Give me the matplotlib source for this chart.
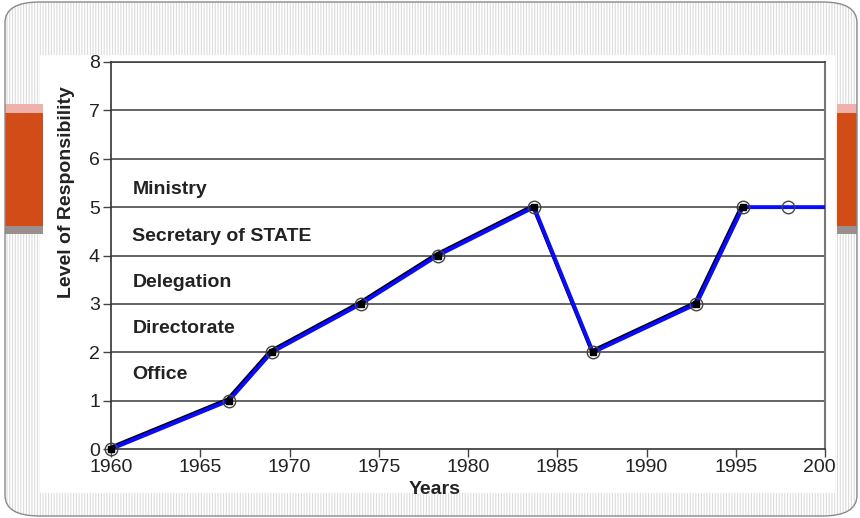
import matplotlib.pyplot as plt
import matplotlib.transforms as mtransforms
from matplotlib.patches import Rectangle, FancyBboxPatch

# data
years = [1960, 1966.6, 1969, 1974, 1978.3, 1983.7, 1987, 1992.8, 1995.4]
levels = [0, 1, 2, 3, 4, 5, 2, 3, 5]
extra_year, extra_level = 1997.9, 5   # circled point on the flat part
line_end = 2000

level_names = ["Office", "Directorate", "Delegation", "Secretary of STATE", "Ministry"]
name_pos = [1.55, 2.5, 3.45, 4.4, 5.37]

xticks = list(range(1960, 2001, 5))
yticks = list(range(0, 9))

plt.rcParams['font.family'] = ['Liberation Sans', 'DejaVu Sans']
plt.rcParams['hatch.linewidth'] = 0.8

W, H = 860, 518
fig = plt.figure(figsize=(8.6, 5.18), dpi=100)

def fx(px):
    return px / W

def fy(py):
    return 1 - py / H

# slide frame with the striped background
frame = FancyBboxPatch((fx(5), fy(516)), fx(852), 514 / H,
                       boxstyle="round,pad=0,rounding_size=0.04",
                       transform=fig.transFigure, facecolor='white',
                       edgecolor='#dcdcdc', hatch='||||||', lw=0, zorder=-10)
fig.add_artist(frame)
border = FancyBboxPatch((fx(5), fy(516)), fx(852), 514 / H,
                        boxstyle="round,pad=0,rounding_size=0.04",
                        transform=fig.transFigure, facecolor='none',
                        edgecolor='#8a8a8a', lw=1.0, zorder=20)
fig.add_artist(border)
# white area of the chart picture
fig.add_artist(Rectangle((fx(40), fy(493)), fx(797), 438 / H,
                         transform=fig.transFigure, facecolor='white',
                         edgecolor='none', zorder=-5))
# striped right margin drawn over the clipped "2000"
fig.add_artist(Rectangle((fx(835), fy(493)), fx(21), 438 / H,
                         transform=fig.transFigure, facecolor='white',
                         edgecolor='#dcdcdc', hatch='||||||', lw=0, zorder=5))

# orange side bars
for x0, w in [(5, 38), (837, 20)]:
    fig.add_artist(Rectangle((fx(x0), fy(113)), fx(w), 9 / H, transform=fig.transFigure,
                             facecolor='#eeb1ac', edgecolor='none', zorder=6))
    fig.add_artist(Rectangle((fx(x0), fy(226)), fx(w), 113 / H, transform=fig.transFigure,
                             facecolor='#d24c18', edgecolor='none', zorder=6))
    fig.add_artist(Rectangle((fx(x0), fy(234)), fx(w), 8 / H, transform=fig.transFigure,
                             facecolor='#9a8e8e', edgecolor='none', zorder=6))

ax = fig.add_axes([fx(111), fy(449), fx(825 - 111), (449 - 62) / H])
ax.set_xlim(1960, 2000)
ax.set_ylim(0, 8)
ax.set_facecolor('white')

for y in yticks[1:]:
    ax.axhline(y, color='#3a3a3a', lw=1.1, zorder=1)

# black original trace slightly offset under the blue one
shift = mtransforms.offset_copy(ax.transData, fig=fig, x=-1.2, y=1.2, units='dots')
ax.plot(years, levels, color='black', lw=2.6, transform=shift, zorder=2,
        solid_capstyle='butt')
ax.plot(years + [line_end], levels + [levels[-1]], color='#0a0aff', lw=2.8,
        zorder=3, solid_joinstyle='miter')

ax.plot(years + [extra_year], levels + [extra_level], ls='none', marker='o',
        ms=9, mfc='none', mec='#444444', mew=1.0, zorder=4, clip_on=False)
ax.plot(years, levels, ls='none', marker='s', ms=4.5, color='black', zorder=5,
        clip_on=False)

for name, y in zip(level_names, name_pos):
    ax.text(1961.2, y, name, fontsize=14, fontweight='bold', color='#222222',
            va='center', ha='left')

ax.set_xticks(xticks)
ax.set_yticks(yticks)
ax.tick_params(axis='both', direction='out', length=6, width=1, color='#444444',
               labelsize=14, labelcolor='#222222')
ax.tick_params(axis='x', pad=1)
ax.tick_params(axis='y', pad=2)

for s in ['left', 'bottom']:
    ax.spines[s].set_color('#333333')
    ax.spines[s].set_linewidth(1.2)
ax.spines['top'].set_color('#3a3a3a')
ax.spines['top'].set_linewidth(1.1)
ax.spines['right'].set_color('#777777')
ax.spines['right'].set_linewidth(1.5)

ax.set_xlabel("Years", fontsize=14, fontweight='bold', color='#222222')
ax.xaxis.set_label_coords(0.454, -0.083)
ax.set_ylabel("Level of Responsibility", fontsize=14, fontweight='bold',
              color='#222222')
ax.yaxis.set_label_coords(-0.050, 0.664)

fig.savefig("out.png", dpi=100)
